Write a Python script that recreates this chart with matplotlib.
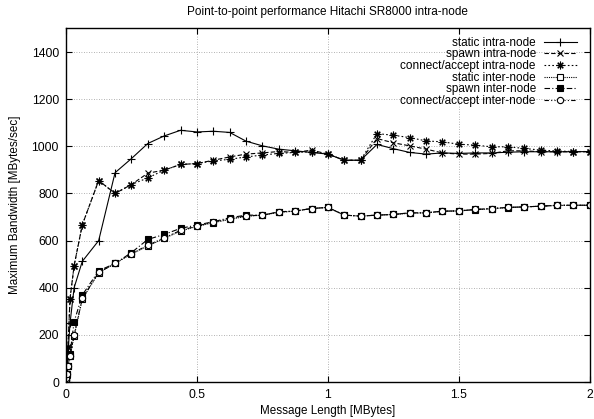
import matplotlib
matplotlib.use("Agg")
import matplotlib.pyplot as plt

plt.rcParams["font.family"] = ["Liberation Sans", "DejaVu Sans"]

# message sizes in MBytes: powers of two up to 32 KB, then 64 KB steps up to 2 MB
small_sizes = [1 / 1024, 1 / 512, 1 / 256, 1 / 128, 1 / 64, 1 / 32]
sizes = small_sizes + [k / 16 for k in range(1, 33)]

static_intra = [15, 30, 60, 120, 250, 400,
                512, 600, 888, 948, 1012, 1044, 1068, 1061, 1064, 1059, 1022, 1002,
                988, 981, 974, 967, 941, 941, 1008, 990, 974, 967, 972, 970, 972,
                972, 975, 977, 977, 977, 977, 978]
spawn_intra = [15, 35, 70, 150, 354, 494,
               667, 855, 800, 838, 886, 899, 923, 927, 941, 955, 967, 972,
               978, 974, 984, 967, 941, 941, 1033, 1015, 1002, 988, 972, 967, 967,
               970, 981, 981, 977, 977, 977, 977]
connect_intra = [15, 35, 70, 150, 354, 494,
                 667, 855, 800, 838, 866, 899, 923, 927, 938, 945, 955, 963,
                 970, 974, 977, 967, 941, 941, 1054, 1047, 1037, 1023, 1019, 1009, 1005,
                 998, 998, 991, 984, 980, 978, 978]
static_inter = [8, 16, 35, 70, 110, 195,
                352, 463, 503, 543, 577, 609, 641, 660, 676, 690, 703, 708,
                720, 725, 736, 741, 708, 704, 708, 711, 716, 718, 724, 726, 731,
                735, 740, 743, 746, 749, 750, 750]
spawn_inter = [8, 16, 35, 70, 120, 256,
               369, 472, 503, 549, 605, 626, 652, 666, 680, 697, 708, 708,
               722, 726, 736, 741, 708, 704, 708, 711, 718, 718, 725, 726, 732,
               736, 741, 743, 746, 750, 750, 750]
connect_inter = [8, 16, 35, 70, 112, 200,
                 355, 465, 503, 545, 580, 612, 643, 662, 678, 692, 705, 708,
                 721, 725, 736, 741, 708, 704, 708, 711, 717, 718, 725, 726, 732,
                 736, 741, 743, 746, 750, 750, 750]

series = [
    ("static intra-node", static_intra, dict(ls="-", marker="+", ms=5.5)),
    ("spawn intra-node", spawn_intra, dict(ls=(0, (4, 2)), marker="x", ms=4.5)),
    ("connect/accept intra-node", connect_intra, dict(ls=(0, (1.5, 2)), marker=(8, 2, 0), ms=5.5)),
    ("static inter-node", static_inter, dict(ls=(0, (1, 1)), marker="s", ms=4.5, mfc="white")),
    ("spawn inter-node", spawn_inter, dict(ls=(0, (5, 2, 1, 2)), marker="s", ms=5)),
    ("connect/accept inter-node", connect_inter, dict(ls=(0, (4, 2, 1, 2, 1, 2)), marker="o", ms=4.5, mfc="white")),
]

fig = plt.figure(figsize=(5.94, 4.19), dpi=100)
ax = fig.add_axes([0.111, 0.0883, 0.882, 0.8437])

for label, values, style in series:
    ax.plot(sizes, values, color="black", lw=0.8, mec="black", mew=0.8,
            label=label, **style)

ax.set_xlim(0, 2)
ax.set_ylim(0, 1500)
ax.set_xticks([0, 0.5, 1, 1.5, 2])
ax.set_xticklabels(["0", "0.5", "1", "1.5", "2"])
ax.set_yticks(range(0, 1401, 200))
ax.grid(True, color="#999999", ls=(0, (1, 2)), lw=0.6)
ax.tick_params(direction="in", top=True, right=True, length=4, labelsize=8.8,
               pad=5, colors="black")
for s in ax.spines.values():
    s.set_linewidth(1.0)

ax.set_title("Point-to-point performance Hitachi SR8000 intra-node", fontsize=8.5, pad=10)
ax.set_xlabel("Message Length [MBytes]", fontsize=8.4, labelpad=3)
ax.set_ylabel("Maximum Bandwidth [MBytes/sec]", fontsize=8.4, labelpad=8)

leg = ax.legend(loc="upper right", frameon=False, markerfirst=False, fontsize=8.5,
                handlelength=2.8, handletextpad=0.65, labelspacing=-0.03,
                borderaxespad=0.3, bbox_to_anchor=(0.9905, 1.0))
for t in leg.get_texts():
    t.set_ha("right")
leg._legend_box.align = "right"

fig.savefig("out.png", dpi=100)
